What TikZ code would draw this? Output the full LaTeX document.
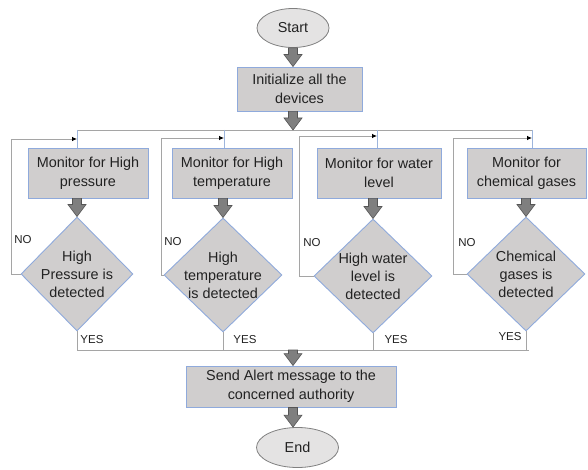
\documentclass[tikz,border=0pt]{standalone}
\usepackage{fontspec}
\setmainfont{Liberation Sans}
\usetikzlibrary{shapes.geometric,calc,arrows.meta}
\definecolor{boxfill}{HTML}{D0CECE}
\definecolor{boxline}{HTML}{8FAADC}
\definecolor{ellfill}{HTML}{E4E3E3}
\definecolor{ellline}{HTML}{808080}
\definecolor{arrfill}{HTML}{7F7F7F}
\definecolor{arrline}{HTML}{555555}
\definecolor{wire}{HTML}{A5A5A5}
\definecolor{bluewire}{HTML}{9DB5DC}
\definecolor{txt}{HTML}{222222}
\newcommand\blockarrow[2]{\path[blockarr] let \p1=#1, \p2=#2 in
  (\x1-4.5pt,\y1) -- (\x1+4.5pt,\y1) -- (\x1+4.5pt,\y2+12pt) -- (\x1+9pt,\y2+12pt)
  -- (\x1,\y2) -- (\x1-9pt,\y2+12pt) -- (\x1-4.5pt,\y2+12pt) -- cycle;}
\begin{document}
\begin{tikzpicture}[x=1pt,y=-1pt, font=\fontsize{14.4}{19}\selectfont, text=txt,
 procbox/.style={draw=boxline, fill=boxfill, line width=0.9pt, inner sep=0pt, align=center},
 term/.style={ellipse, draw=ellline, fill=ellfill, line width=0.8pt, inner sep=0pt},
 decbox/.style={diamond, draw=boxline, fill=boxfill, line width=0.9pt, inner sep=0pt, minimum width=118pt, minimum height=114pt},
 dectext/.style={align=center, inner sep=0pt, font=\fontsize{14.4}{18}\selectfont},
 lbl/.style={font=\fontsize{11.5}{12}\selectfont, inner sep=0pt},
 wireline/.style={draw=wire, line width=0.8pt},
 feed/.style={draw=bluewire, line width=0.8pt},
 loopline/.style={draw=wire, line width=0.8pt, -{Latex[length=5pt,width=4.5pt,black]}},
 blockarr/.style={fill=arrfill, draw=arrline, line width=0.6pt, line join=miter}]
\useasboundingbox (0,0) rectangle (588,470);
% terminals and process boxes
\node[term, minimum width=72pt, minimum height=39pt] (start) at (293,28) {Start};
\node[procbox, minimum width=125pt, minimum height=44pt] (init) at (299.5,89) {Initialize all the\\devices};
\node[procbox, minimum width=120pt, minimum height=50pt] (m1) at (88,173) {Monitor for High\\pressure};
\node[procbox, minimum width=120pt, minimum height=50pt] (m2) at (232,173) {Monitor for High\\temperature};
\node[procbox, minimum width=124pt, minimum height=50pt] (m3) at (379,173) {Monitor for water\\level};
\node[procbox, minimum width=119pt, minimum height=50pt] (m4) at (526.5,173) {Monitor for\\chemical gases};
% decisions
\node[decbox, minimum width=112pt] (d1) at (77,274) {};
\node[decbox] (d2) at (223,275) {};
\node[decbox] (d3) at (373,276) {};
\node[decbox] (d4) at (526,274) {};
\node[dectext] (t1) at (d1.center) {High\\Pressure is\\detected};
\node[dectext] (t2) at (d2.center) {High\\temperature\\is detected};
\node[dectext] (t3) at (d3.center) {High water\\level is\\detected};
\node[dectext] (t4) at (d4.center) {Chemical\\gases is\\detected};
\node[procbox, minimum width=210pt, minimum height=41pt] (send) at (291,386.5) {Send Alert message to the\\concerned authority};
\node[term, minimum width=82pt, minimum height=40pt] (end) at (297.5,447.5) {End};
% top distribution bus
\coordinate (busT) at (293,130);
\coordinate (f1) at (77,130);
\coordinate (f2) at (224,130);
\coordinate (f3) at (377,130);
\coordinate (f4) at (532,130);
\draw[wireline] (f1) -- (f4);
\draw[feed] (f1) -- (f1 |- m1.north);
\draw[feed] (f2) -- (f2 |- m2.north);
\draw[feed] (f3) -- (f3 |- m3.north);
\draw[feed] (f4) -- (f4 |- m4.north);
% NO loops
\coordinate (l1) at (11,139);
\coordinate (l2) at (161,138);
\coordinate (l3) at (299,136);
\coordinate (l4) at (453,138);
\draw[loopline] (d1.west) -- (d1.west -| l1) -- (l1) -- (l1 -| f1);
\draw[loopline] (d2.west) -- (d2.west -| l2) -- (l2) -- (l2 -| f2);
\draw[loopline] (d3.west) -- (d3.west -| l3) -- (l3) -- (l3 -| f3);
\draw[loopline] (d4.west) -- (d4.west -| l4) -- (l4) -- (l4 -| f4);
\node[lbl] (no1) at (23,240) {NO};
\node[lbl] (no2) at (173,242) {NO};
\node[lbl] (no3) at (312,243) {NO};
\node[lbl] (no4) at (467,243) {NO};
% YES bus
\coordinate (busB) at (293,350);
\coordinate (b1) at (77,350);
\coordinate (b2) at (223,350);
\coordinate (b3) at (373,350);
\coordinate (b4) at (526,350);
\coordinate (b5) at (529,350);
\draw[wireline] (d1.south) -- (b1);
\draw[wireline] (d2.south) -- (b2);
\draw[wireline] (d3.south) -- (b3);
\draw[wireline] (d4.south) -- (b4);
\draw[wireline] (b1) -- (b5);
\node[lbl] (y1) at (92,340) {YES};
\node[lbl] (y2) at (245,340) {YES};
\node[lbl] (y3) at (396,340) {YES};
\node[lbl] (y4) at (510,337) {YES};
% block arrows
\blockarrow{(start.south)}{(init.north -| start.south)}
\blockarrow{(init.south -| start.south)}{(busT)}
\blockarrow{(m1.south -| d1.north)}{(d1.north)}
\blockarrow{(m2.south -| d2.north)}{(d2.north)}
\blockarrow{(m3.south -| d3.north)}{(d3.north)}
\blockarrow{(m4.south -| d4.north)}{(d4.north)}
\blockarrow{(busB)}{(send.north -| busB)}
\blockarrow{(send.south -| busB)}{(end.north -| busB)}
\end{tikzpicture}
\end{document}
